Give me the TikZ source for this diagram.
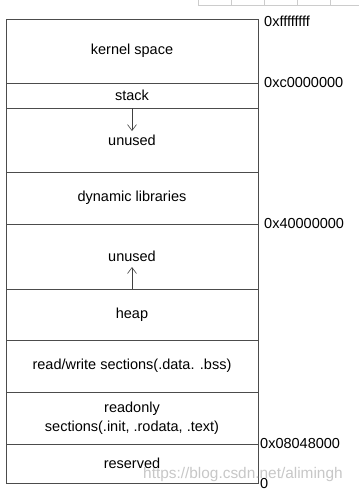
\documentclass[tikz,border=0pt]{standalone}
\usepackage{fontspec}
\setmainfont{Liberation Sans}
\usetikzlibrary{arrows.meta,positioning}

\begin{document}
\begin{tikzpicture}[x=1pt,y=-1pt,
    region/.style={draw=black!70,line width=0.7pt,align=center,
                   font=\fontsize{14.5}{19}\selectfont,
                   minimum width=252pt,inner sep=0pt,outer sep=0pt},
    addr/.style={anchor=west,font=\fontsize{14.5}{17}\selectfont,inner sep=0pt},
    arrow/.style={-{Straight Barb[length=6pt,width=9pt]},black!75,line width=0.6pt},
    node distance=0pt]
  \useasboundingbox (0,0) rectangle (359,493);
  % memory regions, top to bottom
  \node[region,minimum height=64pt] (kernel) at (132,51) {kernel space};
  \node[region,minimum height=25pt,below=of kernel] (stack) {stack};
  \node[region,minimum height=64pt,below=of stack] (freetop) {unused};
  \node[region,minimum height=52pt,below=of freetop] (dynlib) {dynamic libraries};
  \node[region,minimum height=65pt,below=of dynlib] (freelow) {unused};
  \node[region,minimum height=51pt,below=of freelow] (heap) {heap};
  \node[region,minimum height=52pt,below=of heap] (rwdata) {read/write sections(.data. .bss)};
  \node[region,minimum height=52pt,below=of rwdata] (rodata) {readonly\\sections(.init, .rodata, .text)};
  \node[region,minimum height=39pt,below=of rodata] (reserved) {reserved};
  % addresses
  \node[addr,yshift=-2pt] (atop) at ([xshift=6pt]kernel.north east) {0xffffffff};
  \node[addr] (akernel) at ([xshift=6pt]kernel.south east) {0xc0000000};
  \node[addr] (adynlib) at ([xshift=6pt]dynlib.south east) {0x40000000};
  \node[addr] (arodata) at ([xshift=2pt]rodata.south east) {0x08048000};
  \node[addr,yshift=-1pt] (azero) at ([xshift=2pt]reserved.south east) {0};
  % growth directions
  \coordinate[below=23pt of stack.south] (stacktip);
  \coordinate[above=22pt of heap.north] (heaptip);
  \draw[arrow] (stack.south) -- (stacktip);
  \draw[arrow] (heap.north) -- (heaptip);
  % screenshot leftovers
  \node[anchor=west,inner sep=0pt,text=black!22,font=\fontsize{15.4}{17}\selectfont]
       (watermark) at (143,475) {https://blog.csdn.net/alimingh};
  \draw[black!20,line width=0.6pt] (198,5) -- (359,5)
       (198,0) -- (198,5) (231,0) -- (231,5) (264,0) -- (264,5)
       (297,0) -- (297,5) (330,0) -- (330,5);
\end{tikzpicture}
\end{document}
